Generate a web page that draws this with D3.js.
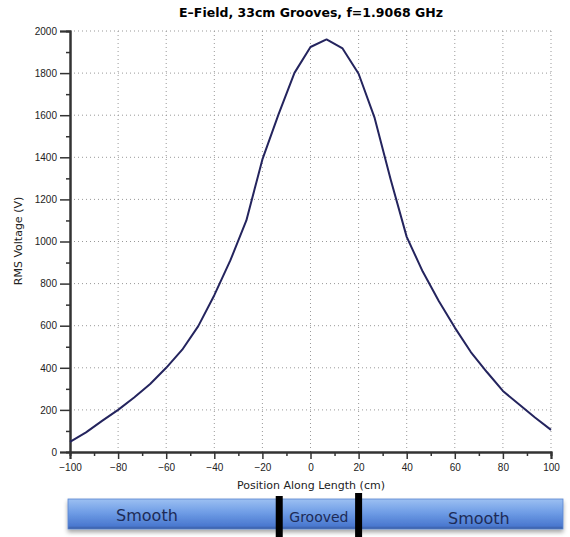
<!DOCTYPE html>
<html>
<head>
<meta charset="utf-8">
<script src="https://cdn.jsdelivr.net/npm/d3@7"></script>
<style>
  body { margin: 0; background: #fff; }
  svg { font-family: "DejaVu Sans", Arial, sans-serif; }
</style>
</head>
<body>
<svg width="570" height="537"></svg>
<script>
// positions every 200/30 cm, from -100 to 100
const positions = d3.range(31).map(k => -100 + k * 200 / 30);
const voltage = [48, 93, 148, 200, 259, 323, 400, 486, 598, 745,
                 910, 1100, 1390, 1603, 1801, 1924, 1960, 1917, 1797, 1587,
                 1295, 1022, 857, 717, 591, 475, 380, 290, 227, 164, 105];
const xTicks = [-100, -80, -60, -40, -20, 0, 20, 40, 60, 80, 100];
const yTicks = [0, 200, 400, 600, 800, 1000, 1200, 1400, 1600, 1800, 2000];
const grooveEdges = [-13, 20];
const sections = [
  {label: "Smooth", x: -68, dy: 0, size: 16},
  {label: "Grooved", x: 3.5, dy: 1, size: 14},
  {label: "Smooth", x: 70, dy: 3, size: 16}
];

const svg = d3.select("svg");
const mLeft = 70, mRight = 551, mTop = 31, mBottom = 452;

const x = d3.scaleLinear().domain([-100, 100]).range([mLeft, mRight]);
const y = d3.scaleLinear().domain([0, 2000]).range([mBottom, mTop]);

// title
svg.append("text")
  .attr("x", 311).attr("y", 17)
  .attr("text-anchor", "middle")
  .style("font-size", "12.5px").style("font-weight", "bold")
  .text("E\u2013Field, 33cm Grooves, f=1.9068 GHz");

// dotted grid
svg.append("g").selectAll("line").data(xTicks.slice(1)).join("line")
  .attr("x1", d => x(d)).attr("x2", d => x(d))
  .attr("y1", mTop).attr("y2", mBottom)
  .attr("stroke", "#999").attr("stroke-width", 1)
  .attr("stroke-dasharray", "1,3");
svg.append("g").selectAll("line").data(yTicks.slice(1)).join("line")
  .attr("x1", mLeft).attr("x2", mRight)
  .attr("y1", d => y(d)).attr("y2", d => y(d))
  .attr("stroke", "#999").attr("stroke-width", 1)
  .attr("stroke-dasharray", "1,3");

// y axis
const yAxis = svg.append("g").attr("transform", `translate(${mLeft},0)`);
yAxis.call(d3.axisLeft(y).tickValues(d3.range(100, 2000, 200)).tickSize(4).tickFormat(""));
yAxis.call(g => g.append("g").call(d3.axisLeft(y).tickValues(yTicks).tickSize(10).tickFormat(d3.format("d"))));
yAxis.selectAll("path").attr("stroke", "#333").attr("stroke-width", 2);
yAxis.selectAll("line").attr("stroke", "#333").attr("stroke-width", 1.5);
yAxis.selectAll("text").style("font-size", "10px").attr("fill", "#222").attr("x", -13);

// x axis
const xAxis = svg.append("g").attr("transform", `translate(0,${mBottom})`);
xAxis.call(d3.axisBottom(x).tickValues(d3.range(-90, 100, 20)).tickSize(4).tickFormat(""));
xAxis.call(g => g.append("g").call(d3.axisBottom(x).tickValues(xTicks).tickSize(7)
  .tickFormat(d => d < 0 ? "\u2212" + Math.abs(d) : d)));
xAxis.selectAll("path").attr("stroke", "#333").attr("stroke-width", 2);
xAxis.selectAll("line").attr("stroke", "#333").attr("stroke-width", 1.5);
xAxis.selectAll("text").style("font-size", "10px").attr("fill", "#222").attr("y", 12);

// axis labels
svg.append("text")
  .attr("x", 311).attr("y", 489)
  .attr("text-anchor", "middle")
  .style("font-size", "11px").attr("fill", "#222")
  .text("Position Along Length (cm)");
svg.append("text")
  .attr("transform", "translate(22,241) rotate(-90)")
  .attr("text-anchor", "middle")
  .style("font-size", "11px").attr("fill", "#222")
  .text("RMS Voltage (V)");

// curve
svg.append("path")
  .datum(positions.map((p, i) => [p, voltage[i]]))
  .attr("fill", "none")
  .attr("stroke", "#24245e")
  .attr("stroke-width", 2)
  .attr("stroke-linejoin", "round")
  .attr("d", d3.line().x(d => x(d[0])).y(d => y(d[1])));

// section bar
const defs = svg.append("defs");
const grad = defs.append("linearGradient").attr("id", "barGrad")
  .attr("x1", 0).attr("y1", 0).attr("x2", 0).attr("y2", 1);
grad.append("stop").attr("offset", "0%").attr("stop-color", "#9cc0f2");
grad.append("stop").attr("offset", "45%").attr("stop-color", "#6f9de6");
grad.append("stop").attr("offset", "90%").attr("stop-color", "#4a78cf");
grad.append("stop").attr("offset", "100%").attr("stop-color", "#34569a");
const shadow = defs.append("filter").attr("id", "shadow")
  .attr("x", "-5%").attr("y", "-20%").attr("width", "110%").attr("height", "160%");
shadow.append("feDropShadow").attr("dx", 0).attr("dy", 3).attr("stdDeviation", 2)
  .attr("flood-color", "#000").attr("flood-opacity", 0.35);

svg.append("rect")
  .attr("x", 68).attr("y", 499).attr("width", 495).attr("height", 30)
  .attr("fill", "url(#barGrad)")
  .attr("stroke", "#5b86cf").attr("stroke-width", 0.8)
  .attr("filter", "url(#shadow)");

svg.append("g").selectAll("rect").data(grooveEdges).join("rect")
  .attr("x", d => x(d) - 3.5).attr("width", 7)
  .attr("y", (d, i) => i === 0 ? 496 : 493)
  .attr("height", (d, i) => i === 0 ? 41 : 44)
  .attr("fill", "#000");

svg.append("g").selectAll("text").data(sections).join("text")
  .attr("x", d => x(d.x))
  .attr("y", d => 521 + d.dy)
  .attr("text-anchor", "middle")
  .style("font-size", d => d.size + "px")
  .attr("fill", "#1d2b57")
  .text(d => d.label);
</script>
</body>
</html>
